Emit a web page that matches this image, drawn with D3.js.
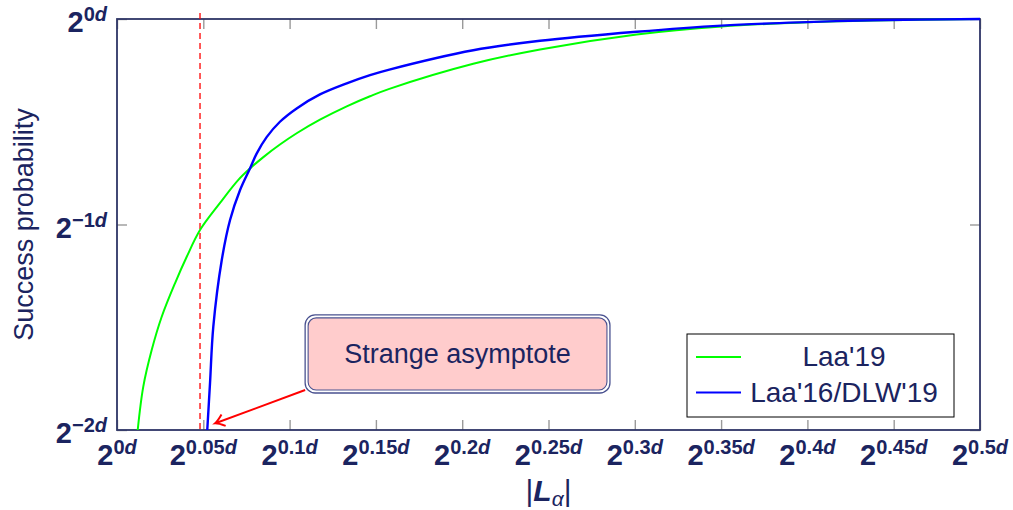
<!DOCTYPE html>
<html>
<head>
<meta charset="utf-8">
<script src="https://cdn.jsdelivr.net/npm/d3@7"></script>
<style>
    body { margin: 0; background: #fff; }
    text { font-family: 'Liberation Sans', Arial, sans-serif; }
</style>
</head>
<body>
<div class="canvas"></div>
<script>
// data (exponents of 2, in units of d)
const xTicks = [0, 0.05, 0.1, 0.15, 0.2, 0.25, 0.3, 0.35, 0.4, 0.45, 0.5];
const xTickLabels = ['0', '0.05', '0.1', '0.15', '0.2', '0.25', '0.3', '0.35', '0.4', '0.45', '0.5'];
const yTicks = [0, -1, -2];
const yTickLabels = ['0', '\u22121', '\u22122'];

const laa19X = [0.012, 0.0152, 0.0201, 0.0259, 0.0336, 0.0404, 0.0481, 0.0597, 0.0703, 0.0771, 0.0848, 0.0944, 0.1041, 0.1176, 0.1331, 0.1466, 0.1578, 0.2064, 0.2451, 0.3011, 0.3503, 0.3996, 0.438, 0.5];
const laa19Y = [-2, -1.79, -1.611, -1.449, -1.286, -1.157, -1.027, -0.895, -0.783, -0.727, -0.672, -0.611, -0.556, -0.490, -0.425, -0.376, -0.340, -0.218, -0.148, -0.075, -0.036, -0.016, -0.007, 0];

const laa16X = [0.0523, 0.0539, 0.0558, 0.0607, 0.0655, 0.0713, 0.0771, 0.0809, 0.0867, 0.0944, 0.1041, 0.1176, 0.1331, 0.1466, 0.1578, 0.2064, 0.2451, 0.3011, 0.3503, 0.3996, 0.438, 0.5];
const laa16Y = [-2, -1.771, -1.497, -1.173, -0.978, -0.832, -0.726, -0.655, -0.575, -0.500, -0.435, -0.367, -0.313, -0.273, -0.246, -0.152, -0.106, -0.062, -0.032, -0.015, -0.006, 0];

const seriesNames = ["Laa'19", "Laa'16/DLW'19"];
const seriesColors = ['#00ff00', '#0000ff'];

const asymptoteX = 0.0481;
const note = { text: 'Strange asymptote', x0: 0.109, x1: 0.2856, y0: -1.44, y1: -1.82, tipX: 0.0574, tipY: -1.966 };

const dimensions = {
    width: 1013,
    height: 510,
    left: 117,
    top: 19,
    innerWidth: 863,
    innerHeight: 411
};

const textColor = '#1b2460';
const frameColor = '#2e3566';
const tickColor = '#9a9a9a';

const svg = d3.select('.canvas')
                .append('svg')
                .attr('width', dimensions.width)
                .attr('height', dimensions.height);

const graph = svg.append('g')
                .attr('transform', `translate(${dimensions.left}, ${dimensions.top})`);

const x = d3.scaleLinear()
            .domain([0, 0.5])
            .range([0, dimensions.innerWidth]);

const y = d3.scaleLinear()
            .domain([-2, 0])
            .range([dimensions.innerHeight, 0]);

// ticks on all four sides, pointing inward
const styleTicks = (g) => {
    g.select('.domain').remove();
    g.selectAll('.tick line').attr('stroke', tickColor).attr('stroke-width', 1.4);
};

graph.append('g')
    .attr('transform', `translate(0, ${dimensions.innerHeight})`)
    .call(d3.axisBottom(x).tickValues(xTicks).tickSize(-10).tickFormat(''))
    .call(styleTicks);
graph.append('g')
    .call(d3.axisTop(x).tickValues(xTicks).tickSize(-10).tickFormat(''))
    .call(styleTicks);
graph.append('g')
    .call(d3.axisLeft(y).tickValues(yTicks).tickSize(-10).tickFormat(''))
    .call(styleTicks);
graph.append('g')
    .attr('transform', `translate(${dimensions.innerWidth}, 0)`)
    .call(d3.axisRight(y).tickValues(yTicks).tickSize(-10).tickFormat(''))
    .call(styleTicks);

// frame
graph.append('rect')
    .attr('width', dimensions.innerWidth)
    .attr('height', dimensions.innerHeight)
    .attr('fill', 'none')
    .attr('stroke', frameColor)
    .attr('stroke-width', 1.8);

// tick labels: 2^{e d}
const powerLabel = (sel, exp) => {
    sel.append('tspan').attr('font-size', 29).text('2');
    const sup = sel.append('tspan').attr('font-size', 20).attr('dy', -11);
    sup.append('tspan').text(exp);
    sup.append('tspan').attr('font-style', 'italic').text('d');
};

xTicks.forEach((v, i) => {
    graph.append('text')
        .attr('x', x(v))
        .attr('y', dimensions.innerHeight + 35)
        .attr('text-anchor', 'middle')
        .attr('font-weight', 'bold')
        .attr('fill', textColor)
        .call(powerLabel, xTickLabels[i]);
});

yTicks.forEach((v, i) => {
    graph.append('text')
        .attr('x', -10)
        .attr('y', y(v) + 13)
        .attr('text-anchor', 'end')
        .attr('font-weight', 'bold')
        .attr('fill', textColor)
        .call(powerLabel, yTickLabels[i]);
});

// axis titles
svg.append('text')
    .attr('transform', `translate(33, ${dimensions.top + dimensions.innerHeight / 2}) rotate(-90)`)
    .attr('text-anchor', 'middle')
    .attr('font-size', 27)
    .attr('fill', textColor)
    .text('Success probability');

const xTitle = svg.append('text')
    .attr('x', dimensions.left + dimensions.innerWidth / 2)
    .attr('y', 501)
    .attr('text-anchor', 'middle')
    .attr('font-size', 30)
    .attr('fill', textColor);
xTitle.append('tspan').text('|');
xTitle.append('tspan').attr('font-weight', 'bold').attr('font-style', 'italic').text('L');
xTitle.append('tspan').attr('font-size', 21).attr('font-style', 'italic').attr('dy', 5).text('\u03b1');
xTitle.append('tspan').attr('dy', -5).text('|');

// asymptote
graph.append('line')
    .attr('x1', x(asymptoteX))
    .attr('x2', x(asymptoteX))
    .attr('y1', -6)
    .attr('y2', dimensions.innerHeight)
    .attr('stroke', '#ff0000')
    .attr('stroke-width', 1.3)
    .attr('stroke-dasharray', '6,4');

// curves
const line = d3.line()
                .x(d => x(d[0]))
                .y(d => y(d[1]))
                .curve(d3.curveCatmullRom.alpha(0.5));

const series = [
    d3.zip(laa19X, laa19Y),
    d3.zip(laa16X, laa16Y)
];

graph.selectAll('path.curve')
    .data(series)
    .enter()
    .append('path')
    .attr('class', 'curve')
    .attr('d', line)
    .attr('fill', 'none')
    .attr('stroke', (d, i) => seriesColors[i])
    .attr('stroke-width', (d, i) => i == 0 ? 2 : 2.4);

// annotation box + arrow
svg.append('defs').append('marker')
    .attr('id', 'to')
    .attr('viewBox', '-10 -8 14 16')
    .attr('markerWidth', 14)
    .attr('markerHeight', 16)
    .attr('markerUnits', 'userSpaceOnUse')
    .attr('orient', 'auto')
    .append('path')
    .attr('d', 'M -8 -6 Q -2 -1 1 0 Q -2 1 -8 6')
    .attr('fill', 'none')
    .attr('stroke', '#ff0000')
    .attr('stroke-width', 2);

graph.append('line')
    .attr('x1', x(note.x0))
    .attr('y1', y(note.y1) - 3)
    .attr('x2', x(note.tipX))
    .attr('y2', y(note.tipY))
    .attr('stroke', '#ff0000')
    .attr('stroke-width', 2)
    .attr('marker-end', 'url(#to)');

const box = graph.append('g');
box.append('rect')
    .attr('x', x(note.x0))
    .attr('y', y(note.y0))
    .attr('width', x(note.x1) - x(note.x0))
    .attr('height', y(note.y1) - y(note.y0))
    .attr('rx', 10)
    .attr('fill', '#fff')
    .attr('stroke', '#4a5290')
    .attr('stroke-width', 1.3);
box.append('rect')
    .attr('x', x(note.x0) + 3)
    .attr('y', y(note.y0) + 3)
    .attr('width', x(note.x1) - x(note.x0) - 6)
    .attr('height', y(note.y1) - y(note.y0) - 6)
    .attr('rx', 8)
    .attr('fill', '#ffcccc')
    .attr('stroke', '#4a5290')
    .attr('stroke-width', 1.1);
box.append('text')
    .attr('x', (x(note.x0) + x(note.x1)) / 2)
    .attr('y', (y(note.y0) + y(note.y1)) / 2 + 9)
    .attr('text-anchor', 'middle')
    .attr('font-size', 27)
    .attr('fill', textColor)
    .text(note.text);

// legend
const legendGroup = graph.append('g')
                    .attr('transform', `translate(${dimensions.innerWidth - 26 - 267}, ${dimensions.innerHeight - 13 - 83})`);

legendGroup.append('rect')
    .attr('width', 267)
    .attr('height', 83)
    .attr('fill', '#fff')
    .attr('stroke', '#000')
    .attr('stroke-width', 1);

seriesNames.forEach((name, i) => {
    const row = legendGroup.append('g')
                    .attr('transform', `translate(0, ${23 + i * 35.5})`);
    row.append('line')
        .attr('x1', 9).attr('x2', 54)
        .attr('stroke', seriesColors[i])
        .attr('stroke-width', 2);
    row.append('text')
        .attr('x', 157)
        .attr('y', 9)
        .attr('text-anchor', 'middle')
        .attr('font-size', 28)
        .attr('fill', textColor)
        .text(name);
});
</script>
</body>
</html>
